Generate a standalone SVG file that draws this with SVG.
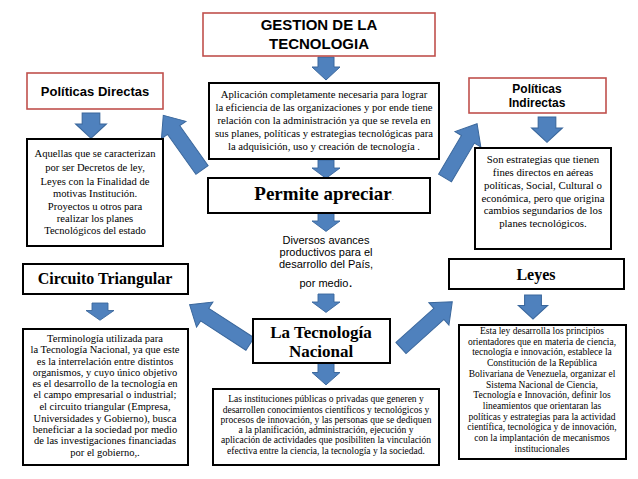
<svg xmlns="http://www.w3.org/2000/svg" width="638" height="479" viewBox="0 0 638 479">
<style>
.rbox{fill:#fff;stroke:#c0504d;stroke-width:1.6}
.bbox{fill:#fff;stroke:#000;stroke-width:2}
.arr{fill:#4f81bd;stroke:#3a679c;stroke-width:1}
.h{font-family:"Liberation Sans",Arial,sans-serif;font-weight:700;fill:#000;text-anchor:middle}
.t{font-family:"Liberation Serif","Times New Roman",serif;font-weight:400;fill:#000;text-anchor:middle}
.tb{font-family:"Liberation Serif","Times New Roman",serif;font-weight:700;fill:#000;text-anchor:middle}
.a{font-family:"Liberation Sans",Arial,sans-serif;fill:#000;text-anchor:middle}
</style>
<defs>
<path id="down" d="M-8,0 H8 V10 H14 L0,23 L-14,10 H-8 Z"/>
</defs>
<rect width="638" height="479" fill="#fff"/>

<g id="connectors">
<use href="#down" class="arr" transform="translate(326,57)"/>
<use href="#down" class="arr" transform="translate(326,160) scale(1,0.8)"/>
<use href="#down" class="arr" transform="translate(326,213) scale(1,0.8)"/>
<use href="#down" class="arr" transform="translate(326,294) scale(1,0.8)"/>
<use href="#down" class="arr" transform="translate(326,363) scale(1,0.95)"/>
<use href="#down" class="arr" transform="translate(91,113) scale(1.1,1.1)"/>
<use href="#down" class="arr" transform="translate(547,117) scale(1.1,1.1)"/>
<use href="#down" class="arr" transform="translate(100,303) scale(1,0.75)"/>
<use href="#down" class="arr" transform="translate(533,295) scale(1.05,1.05)"/>
<path class="arr" transform="translate(202,170) rotate(-125.3)" d="M0,-7.5 H49 V-15 L67,0 L49,15 V7.5 H0 Z"/>
<path class="arr" transform="translate(445,178) rotate(-59.4)" d="M0,-7.5 H45 V-15 L63,0 L45,15 V7.5 H0 Z"/>
<path class="arr" transform="translate(250,344) rotate(-147)" d="M0,-7.5 H54 V-15 L72,0 L54,15 V7.5 H0 Z"/>
<path class="arr" transform="translate(401,348) rotate(-42)" d="M0,-7.5 H51 V-15 L69,0 L51,15 V7.5 H0 Z"/>
</g>

<g id="gestion">
<rect class="rbox" x="203" y="13" width="232" height="43"/>
<text class="h" font-size="15" x="319" y="30">GESTION DE LA</text>
<text class="h" font-size="15" x="319" y="49">TECNOLOGIA</text>
</g>

<g id="aplicacion">
<rect class="bbox" x="209" y="83" width="230" height="76"/>
<text class="t" font-size="10.7" x="324" y="98">Aplicación completamente necesaria para lograr</text>
<text class="t" font-size="10.7" x="324" y="111">la eficiencia de las organizaciones y por ende tiene</text>
<text class="t" font-size="10.7" x="324" y="124">relación con la administración ya que se revela en</text>
<text class="t" font-size="10.7" x="324" y="137">sus planes, políticas y estrategias tecnológicas para</text>
<text class="t" font-size="10.7" x="324" y="150">la adquisición, uso y creación de tecnología   .</text>
</g>

<g id="permite">
<rect class="bbox" x="208" y="178" width="222" height="35"/>
<text class="tb" font-size="19" x="324" y="200">Permite apreciar<tspan font-size="8" font-weight="400">.</tspan></text>
</g>

<g id="diversos">
<text class="a" font-size="11" x="326" y="244">Diversos avances</text>
<text class="a" font-size="11" x="326" y="256">productivos para el</text>
<text class="a" font-size="11" x="326" y="268">desarrollo del País,</text>
<text class="a" font-size="11" x="326" y="287">por medio<tspan font-size="15">.</tspan></text>
</g>

<g id="tecnologia-nacional">
<rect class="bbox" x="253" y="319" width="137" height="44"/>
<text class="tb" font-size="17" x="321" y="338">La Tecnología</text>
<text class="tb" font-size="17" x="321" y="357">Nacional</text>
</g>

<g id="instituciones">
<rect class="bbox" x="213" y="389" width="226" height="76"/>
<text class="t" font-size="9.5" x="326" y="402">Las instituciones públicas o privadas que generen y</text>
<text class="t" font-size="9.5" x="326" y="413">desarrollen conocimientos científicos y tecnológicos y</text>
<text class="t" font-size="9.5" x="326" y="423">procesos de innovación, y las personas que se dediquen</text>
<text class="t" font-size="9.5" x="326" y="433">a la planificación, administración, ejecución y</text>
<text class="t" font-size="9.5" x="326" y="443">aplicación de actividades que posibiliten la vinculación</text>
<text class="t" font-size="9.5" x="326" y="454">efectiva entre la ciencia, la tecnología y la sociedad.</text>
</g>

<g id="politicas-directas">
<rect class="rbox" x="27" y="73" width="136" height="36"/>
<text class="h" font-size="13" x="95" y="96">Políticas Directas</text>
</g>

<g id="directas-desc">
<rect class="bbox" x="27" y="139" width="136" height="107"/>
<text class="t" font-size="10.6" x="95" y="157">Aquellas que se caracterizan</text>
<text class="t" font-size="10.6" x="95" y="171">por ser Decretos de ley,</text>
<text class="t" font-size="10.6" x="95" y="185">Leyes con la Finalidad de</text>
<text class="t" font-size="10.6" x="95" y="197">motivas Institución.</text>
<text class="t" font-size="10.6" x="95" y="210">Proyectos u otros para</text>
<text class="t" font-size="10.6" x="95" y="222">realizar los planes</text>
<text class="t" font-size="10.6" x="95" y="234">Tecnológicos del estado</text>
</g>

<g id="politicas-indirectas">
<rect class="rbox" x="469" y="78" width="137" height="35"/>
<text class="h" font-size="12" x="537" y="92.5">Políticas</text>
<text class="h" font-size="12" x="537" y="107">Indirectas</text>
</g>

<g id="indirectas-desc">
<rect class="bbox" x="475" y="148" width="136" height="101"/>
<text class="t" font-size="10.8" x="543" y="163">Son estrategias que tienen</text>
<text class="t" font-size="10.8" x="543" y="176">fines directos en aéreas</text>
<text class="t" font-size="10.8" x="543" y="189">políticas, Social, Cultural o</text>
<text class="t" font-size="10.8" x="543" y="202">económica, pero que origina</text>
<text class="t" font-size="10.8" x="543" y="214">cambios segundarios de los</text>
<text class="t" font-size="10.8" x="543" y="227">planes tecnológicos.</text>
</g>

<g id="circuito">
<rect class="bbox" x="23" y="264" width="165" height="30"/>
<text class="tb" font-size="16" x="105" y="284">Circuito Triangular</text>
</g>

<g id="circuito-desc">
<rect class="bbox" x="23" y="329" width="165" height="136"/>
<text class="t" font-size="10.5" x="105" y="342">Terminología utilizada para</text>
<text class="t" font-size="10.5" x="105" y="353">la Tecnología Nacional, ya que este</text>
<text class="t" font-size="10.5" x="105" y="365">es la interrelación entre distintos</text>
<text class="t" font-size="10.5" x="105" y="376">organismos, y cuyo único objetivo</text>
<text class="t" font-size="10.5" x="105" y="387">es el desarrollo de la tecnología en</text>
<text class="t" font-size="10.5" x="105" y="398">el campo empresarial o industrial;</text>
<text class="t" font-size="10.5" x="105" y="410">el circuito triangular (Empresa,</text>
<text class="t" font-size="10.5" x="105" y="422">Universidades y Gobierno), busca</text>
<text class="t" font-size="10.5" x="105" y="433">beneficiar a la sociedad por medio</text>
<text class="t" font-size="10.5" x="105" y="444">de las investigaciones financiadas</text>
<text class="t" font-size="10.5" x="105" y="456">por el gobierno,.</text>
</g>

<g id="leyes">
<rect class="bbox" x="449" y="259" width="175" height="30"/>
<text class="tb" font-size="16" x="536" y="280">Leyes</text>
</g>

<g id="leyes-desc">
<rect class="bbox" x="459" y="325" width="167" height="134"/>
<text class="t" font-size="9.5" x="542" y="334">Esta ley desarrolla los principios</text>
<text class="t" font-size="9.5" x="542" y="344.7">orientadores que en materia de ciencia,</text>
<text class="t" font-size="9.5" x="542" y="355.4">tecnología e innovación, establece la</text>
<text class="t" font-size="9.5" x="542" y="366">Constitución de la República</text>
<text class="t" font-size="9.5" x="542" y="376.8">Bolivariana de Venezuela, organizar el</text>
<text class="t" font-size="9.5" x="542" y="387.5">Sistema Nacional de Ciencia,</text>
<text class="t" font-size="9.5" x="542" y="398.2">Tecnología e Innovación, definir los</text>
<text class="t" font-size="9.5" x="542" y="409">lineamientos que orientaran las</text>
<text class="t" font-size="9.5" x="542" y="419.6">políticas y estrategias para la actividad</text>
<text class="t" font-size="9.5" x="542" y="430.3">científica, tecnológica y de innovación,</text>
<text class="t" font-size="9.5" x="542" y="441">con la implantación de mecanismos</text>
<text class="t" font-size="9.5" x="542" y="451.7">institucionales</text>
</g>
</svg>
